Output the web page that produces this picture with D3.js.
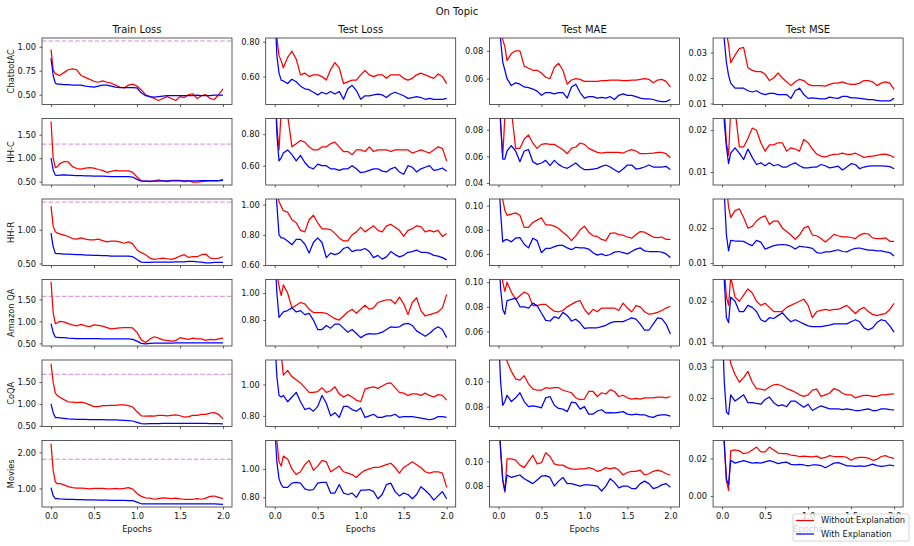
<!DOCTYPE html>
<html>
  <head>
    <style>
      body { margin: 0; background: #fff; }
      text { font-family: "DejaVu Sans", sans-serif; fill: #111; }
      .tick line { stroke: #333; stroke-width: 0.8; }
      .tick text { font-size: 8.3px; }
    </style>
    <script src="https://d3js.org/d3.v7.min.js"></script>
  </head>

  <body>
    <svg width="914" height="546"></svg>

    <script>
      var datasets = ["ChatbotAC", "HH-C", "HH-R", "Amazon QA", "CoQA", "Movies"];
      var metrics = ["Train Loss", "Test Loss", "Test MAE", "Test MSE"];
      var seriesNames = ["Without Explanation", "With Explanation"];

      var epochs = [0, 0.025, 0.05, 0.075, 0.1,
        0.15, 0.2, 0.25, 0.3, 0.35, 0.4, 0.45, 0.5, 0.55, 0.6,
        0.65, 0.7, 0.75, 0.8, 0.85, 0.9, 0.95, 1.0, 1.05, 1.1,
        1.15, 1.2, 1.25, 1.3, 1.35, 1.4, 1.45, 1.5, 1.55, 1.6,
        1.65, 1.7, 1.75, 1.8, 1.85, 1.9, 1.95, 2.0];

      // dashed reference level in the train loss panels
      var trainBaseline = [1.06, 1.30, 1.41, 1.57, 1.68, 1.81];

      // ---- ChatbotAC
      var chatbotTrainWithout = [0.97, 0.76, 0.72, 0.71, 0.70,
        0.73, 0.76, 0.77, 0.76, 0.70, 0.68, 0.66, 0.64, 0.63, 0.645,
        0.63, 0.62, 0.60, 0.58, 0.57, 0.60, 0.61, 0.59, 0.55, 0.50,
        0.48, 0.46, 0.44, 0.46, 0.48, 0.46, 0.44, 0.48, 0.47, 0.50,
        0.51, 0.46, 0.49, 0.50, 0.46, 0.45, 0.50, 0.56];
      var chatbotTrainWith = [0.88, 0.70, 0.62, 0.61, 0.61,
        0.605, 0.605, 0.60, 0.60, 0.60, 0.59, 0.585, 0.58, 0.59, 0.60,
        0.60, 0.59, 0.58, 0.575, 0.575, 0.575, 0.575, 0.57, 0.52, 0.49,
        0.48, 0.475, 0.48, 0.485, 0.49, 0.49, 0.49, 0.49, 0.49, 0.49,
        0.49, 0.495, 0.49, 0.49, 0.49, 0.495, 0.495, 0.495];
      var chatbotLossWithout = [1.00, 0.82, 0.72, 0.69, 0.65,
        0.71, 0.745, 0.70, 0.61, 0.62, 0.60, 0.61, 0.61, 0.60, 0.58,
        0.64, 0.68, 0.65, 0.56, 0.57, 0.58, 0.58, 0.61, 0.635, 0.61,
        0.60, 0.61, 0.61, 0.59, 0.61, 0.61, 0.61, 0.59, 0.58, 0.59,
        0.61, 0.62, 0.61, 0.60, 0.59, 0.615, 0.60, 0.56];
      var chatbotLossWith = [1.00, 0.72, 0.62, 0.58, 0.575,
        0.56, 0.585, 0.57, 0.545, 0.53, 0.525, 0.51, 0.495, 0.51, 0.50,
        0.515, 0.50, 0.515, 0.47, 0.53, 0.55, 0.52, 0.47, 0.49, 0.49,
        0.495, 0.50, 0.495, 0.48, 0.50, 0.51, 0.50, 0.49, 0.475, 0.48,
        0.485, 0.48, 0.47, 0.475, 0.47, 0.47, 0.47, 0.475];
      var chatbotMaeWithout = [0.13, 0.10, 0.088, 0.083, 0.073,
        0.078, 0.080, 0.080, 0.069, 0.0675, 0.066, 0.066, 0.064, 0.061, 0.060,
        0.068, 0.071, 0.066, 0.056, 0.059, 0.060, 0.0595, 0.058, 0.058, 0.058,
        0.058, 0.0585, 0.0585, 0.059, 0.059, 0.059, 0.0585, 0.0585, 0.059, 0.059,
        0.0595, 0.060, 0.0595, 0.057, 0.059, 0.0595, 0.058, 0.054];
      var chatbotMaeWith = [0.12, 0.088, 0.072, 0.066, 0.060,
        0.055, 0.057, 0.056, 0.054, 0.0535, 0.0525, 0.051, 0.048, 0.050, 0.050,
        0.049, 0.050, 0.050, 0.046, 0.054, 0.056, 0.050, 0.046, 0.047, 0.047,
        0.046, 0.0465, 0.046, 0.047, 0.045, 0.048, 0.049, 0.048, 0.048, 0.047,
        0.046, 0.0455, 0.0455, 0.045, 0.044, 0.0435, 0.0435, 0.045];
      var chatbotMseWithout = [0.06, 0.045, 0.038, 0.033, 0.026,
        0.029, 0.0315, 0.032, 0.024, 0.023, 0.0225, 0.0225, 0.0215, 0.019, 0.020,
        0.022, 0.020, 0.0185, 0.017, 0.0185, 0.0195, 0.019, 0.0175, 0.017, 0.017,
        0.017, 0.0168, 0.0175, 0.018, 0.018, 0.0185, 0.0178, 0.0175, 0.0175, 0.018,
        0.019, 0.019, 0.0185, 0.017, 0.018, 0.0185, 0.018, 0.0155];
      var chatbotMseWith = [0.06, 0.035, 0.026, 0.021, 0.018,
        0.016, 0.016, 0.016, 0.015, 0.0145, 0.015, 0.014, 0.0135, 0.014, 0.014,
        0.0135, 0.0135, 0.0135, 0.012, 0.015, 0.016, 0.0135, 0.012, 0.0122, 0.012,
        0.0118, 0.0118, 0.0125, 0.0122, 0.012, 0.0128, 0.0128, 0.0122, 0.0122, 0.012,
        0.0118, 0.0115, 0.0115, 0.0112, 0.011, 0.011, 0.011, 0.012];

      // ---- HH-C
      var hhcTrainWithout = [1.78, 1.00, 0.80, 0.82, 0.88,
        0.93, 0.92, 0.82, 0.78, 0.77, 0.79, 0.80, 0.79, 0.76, 0.74,
        0.70, 0.72, 0.74, 0.73, 0.73, 0.73, 0.70, 0.60, 0.52, 0.51,
        0.50, 0.52, 0.54, 0.52, 0.50, 0.53, 0.53, 0.53, 0.50, 0.52,
        0.49, 0.49, 0.50, 0.51, 0.52, 0.52, 0.52, 0.55];
      var hhcTrainWith = [1.00, 0.75, 0.64, 0.635, 0.64,
        0.645, 0.64, 0.635, 0.63, 0.63, 0.625, 0.625, 0.62, 0.62, 0.62,
        0.615, 0.61, 0.61, 0.61, 0.61, 0.61, 0.60, 0.55, 0.51, 0.51,
        0.51, 0.515, 0.515, 0.52, 0.52, 0.52, 0.52, 0.52, 0.52, 0.52,
        0.52, 0.52, 0.525, 0.525, 0.525, 0.525, 0.525, 0.53];
      var hhcLossWithout = [1.20, 0.85, 0.70, 0.95, 1.00,
        0.92, 0.72, 0.74, 0.76, 0.75, 0.72, 0.70, 0.70, 0.72, 0.72,
        0.74, 0.75, 0.72, 0.69, 0.69, 0.67, 0.70, 0.70, 0.69, 0.72,
        0.69, 0.70, 0.70, 0.70, 0.69, 0.70, 0.70, 0.70, 0.70, 0.68,
        0.69, 0.70, 0.69, 0.68, 0.70, 0.72, 0.71, 0.63];
      var hhcLossWith = [1.20, 0.80, 0.63, 0.65, 0.68,
        0.70, 0.67, 0.63, 0.665, 0.62, 0.59, 0.58, 0.61, 0.60, 0.60,
        0.58, 0.58, 0.57, 0.58, 0.58, 0.60, 0.58, 0.555, 0.56, 0.57,
        0.58, 0.58, 0.565, 0.56, 0.58, 0.59, 0.56, 0.545, 0.60, 0.59,
        0.56, 0.58, 0.59, 0.60, 0.57, 0.575, 0.585, 0.565];
      var hhcMaeWithout = [0.13, 0.085, 0.060, 0.09, 0.10,
        0.095, 0.066, 0.066, 0.073, 0.076, 0.070, 0.066, 0.069, 0.0695, 0.069,
        0.069, 0.067, 0.065, 0.062, 0.066, 0.067, 0.070, 0.069, 0.066, 0.0645,
        0.063, 0.0625, 0.063, 0.063, 0.063, 0.063, 0.0625, 0.064, 0.065, 0.064,
        0.062, 0.062, 0.0622, 0.0625, 0.063, 0.063, 0.062, 0.059];
      var hhcMaeWith = [0.12, 0.085, 0.058, 0.058, 0.064,
        0.068, 0.064, 0.056, 0.064, 0.065, 0.056, 0.054, 0.055, 0.057, 0.053,
        0.057, 0.054, 0.052, 0.051, 0.053, 0.055, 0.052, 0.050, 0.050, 0.0505,
        0.051, 0.0525, 0.0535, 0.052, 0.050, 0.048, 0.0505, 0.0535, 0.0535, 0.0505,
        0.051, 0.052, 0.0535, 0.052, 0.052, 0.052, 0.0525, 0.050];
      var hhcMseWithout = [0.04, 0.025, 0.017, 0.014, 0.025,
        0.025, 0.016, 0.016, 0.018, 0.0205, 0.020, 0.017, 0.015, 0.0165, 0.0165,
        0.017, 0.017, 0.015, 0.0158, 0.0155, 0.015, 0.0178, 0.017, 0.0155, 0.0143,
        0.0138, 0.0136, 0.014, 0.0142, 0.0143, 0.0145, 0.0142, 0.0142, 0.0145, 0.014,
        0.0135, 0.0137, 0.0138, 0.014, 0.0142, 0.0143, 0.014, 0.0135];
      var hhcMseWith = [0.04, 0.022, 0.016, 0.012, 0.0145,
        0.0158, 0.0145, 0.013, 0.0155, 0.0135, 0.0118, 0.0122, 0.0115, 0.0122, 0.0115,
        0.0118, 0.0112, 0.0112, 0.0118, 0.0122, 0.0115, 0.011, 0.011, 0.0112, 0.0112,
        0.0118, 0.0115, 0.011, 0.0112, 0.0114, 0.0105, 0.0112, 0.012, 0.0118, 0.0108,
        0.0112, 0.0114, 0.0115, 0.0115, 0.0115, 0.0114, 0.0113, 0.0108];

      // ---- HH-R
      var hhrTrainWithout = [1.35, 1.05, 0.97, 0.95, 0.94,
        0.92, 0.90, 0.87, 0.86, 0.88, 0.86, 0.85, 0.85, 0.86, 0.84,
        0.82, 0.83, 0.83, 0.82, 0.80, 0.82, 0.79, 0.70, 0.66, 0.63,
        0.58, 0.56, 0.57, 0.58, 0.57, 0.56, 0.58, 0.61, 0.63, 0.59,
        0.60, 0.60, 0.63, 0.64, 0.58, 0.57, 0.58, 0.60];
      var hhrTrainWith = [0.95, 0.75, 0.65, 0.645, 0.645,
        0.64, 0.64, 0.635, 0.63, 0.63, 0.625, 0.625, 0.62, 0.62, 0.615,
        0.615, 0.61, 0.61, 0.61, 0.61, 0.61, 0.60, 0.56, 0.52, 0.515,
        0.515, 0.52, 0.52, 0.52, 0.52, 0.52, 0.525, 0.525, 0.525, 0.53,
        0.53, 0.525, 0.52, 0.51, 0.51, 0.515, 0.515, 0.515];
      var hhrLossWithout = [1.30, 1.10, 1.02, 0.99, 0.96,
        0.95, 0.90, 0.88, 0.83, 0.82, 0.90, 0.93, 0.88, 0.84, 0.84,
        0.835, 0.81, 0.78, 0.76, 0.76, 0.80, 0.82, 0.85, 0.82, 0.84,
        0.86, 0.83, 0.82, 0.86, 0.87, 0.85, 0.83, 0.79, 0.83, 0.84,
        0.86, 0.855, 0.82, 0.83, 0.82, 0.83, 0.79, 0.81];
      var hhrLossWith = [1.20, 1.00, 0.80, 0.78, 0.78,
        0.76, 0.735, 0.77, 0.77, 0.74, 0.68, 0.75, 0.78, 0.75, 0.65,
        0.68, 0.67, 0.68, 0.71, 0.72, 0.69, 0.70, 0.70, 0.71, 0.69,
        0.65, 0.665, 0.64, 0.655, 0.69, 0.67, 0.655, 0.665, 0.685, 0.69,
        0.70, 0.685, 0.685, 0.68, 0.665, 0.66, 0.65, 0.635];
      var hhrMaeWithout = [0.14, 0.12, 0.105, 0.096, 0.092,
        0.093, 0.094, 0.092, 0.082, 0.082, 0.086, 0.088, 0.090, 0.084, 0.084,
        0.083, 0.081, 0.078, 0.075, 0.071, 0.075, 0.080, 0.083, 0.078, 0.075,
        0.0745, 0.072, 0.071, 0.077, 0.0775, 0.076, 0.0755, 0.074, 0.073, 0.076,
        0.0785, 0.078, 0.076, 0.074, 0.0735, 0.074, 0.072, 0.072];
      var hhrMaeWith = [0.13, 0.095, 0.070, 0.0715, 0.072,
        0.070, 0.073, 0.0735, 0.068, 0.065, 0.073, 0.071, 0.061, 0.0645, 0.0645,
        0.066, 0.067, 0.067, 0.065, 0.0635, 0.0655, 0.065, 0.065, 0.064, 0.061,
        0.059, 0.060, 0.0585, 0.0595, 0.0615, 0.062, 0.061, 0.060, 0.062, 0.064,
        0.065, 0.0625, 0.062, 0.062, 0.062, 0.0615, 0.060, 0.057];
      var hhrMseWithout = [0.05, 0.04, 0.032, 0.026, 0.023,
        0.025, 0.0255, 0.023, 0.020, 0.0205, 0.022, 0.023, 0.0235, 0.021, 0.022,
        0.022, 0.020, 0.019, 0.018, 0.0168, 0.018, 0.020, 0.0205, 0.018, 0.0178,
        0.017, 0.016, 0.017, 0.0182, 0.0178, 0.0175, 0.0175, 0.0173, 0.017, 0.018,
        0.0185, 0.0183, 0.0172, 0.017, 0.017, 0.0172, 0.0162, 0.0162];
      var hhrMseWith = [0.04, 0.03, 0.018, 0.0135, 0.0165,
        0.0163, 0.0163, 0.0162, 0.0155, 0.015, 0.0165, 0.016, 0.014, 0.0145, 0.015,
        0.0152, 0.0153, 0.0152, 0.0148, 0.014, 0.0148, 0.0146, 0.0145, 0.0142, 0.013,
        0.0128, 0.0132, 0.0132, 0.0135, 0.0138, 0.0133, 0.0132, 0.0138, 0.0142, 0.0143,
        0.014, 0.0137, 0.0137, 0.0135, 0.0135, 0.0132, 0.013, 0.012];

      // ---- Amazon QA
      var amazonTrainWithout = [1.90, 1.20, 0.95, 0.97, 1.00,
        0.99, 0.95, 0.92, 0.90, 0.93, 0.90, 0.88, 0.92, 0.91, 0.89,
        0.86, 0.83, 0.84, 0.85, 0.86, 0.86, 0.85, 0.75, 0.58, 0.52,
        0.60, 0.65, 0.62, 0.58, 0.57, 0.55, 0.56, 0.63, 0.61, 0.59,
        0.62, 0.60, 0.60, 0.57, 0.59, 0.58, 0.60, 0.62];
      var amazonTrainWith = [0.95, 0.75, 0.64, 0.635, 0.63,
        0.63, 0.62, 0.615, 0.61, 0.61, 0.61, 0.61, 0.605, 0.605, 0.60,
        0.60, 0.60, 0.60, 0.60, 0.60, 0.60, 0.59, 0.55, 0.50, 0.49,
        0.50, 0.505, 0.505, 0.505, 0.505, 0.505, 0.51, 0.51, 0.51, 0.51,
        0.51, 0.51, 0.51, 0.51, 0.51, 0.51, 0.51, 0.51];
      var amazonLossWithout = [1.30, 1.15, 1.05, 0.98, 1.06,
        1.00, 0.89, 0.91, 0.93, 0.92, 0.88, 0.855, 0.855, 0.855, 0.85,
        0.83, 0.81, 0.80, 0.83, 0.86, 0.88, 0.85, 0.88, 0.91, 0.88,
        0.89, 0.93, 0.94, 0.95, 0.95, 0.92, 0.97, 0.92, 0.84, 0.93,
        0.965, 0.87, 0.83, 0.84, 0.85, 0.86, 0.89, 0.99];
      var amazonLossWith = [1.30, 1.00, 0.82, 0.84, 0.86,
        0.87, 0.89, 0.86, 0.87, 0.84, 0.85, 0.80, 0.73, 0.73, 0.76,
        0.74, 0.77, 0.77, 0.74, 0.71, 0.73, 0.70, 0.67, 0.69, 0.70,
        0.695, 0.70, 0.71, 0.73, 0.75, 0.745, 0.75, 0.77, 0.775, 0.76,
        0.72, 0.70, 0.68, 0.70, 0.73, 0.75, 0.73, 0.67];
      var amazonMaeWithout = [0.14, 0.12, 0.10, 0.0925, 0.10,
        0.092, 0.086, 0.089, 0.092, 0.090, 0.081, 0.081, 0.082, 0.082, 0.079,
        0.0765, 0.076, 0.077, 0.080, 0.082, 0.084, 0.085, 0.078, 0.074, 0.078,
        0.076, 0.079, 0.079, 0.079, 0.079, 0.077, 0.083, 0.079, 0.076, 0.081,
        0.080, 0.076, 0.074, 0.0745, 0.0755, 0.077, 0.079, 0.0805];
      var amazonMaeWith = [0.13, 0.095, 0.078, 0.074, 0.085,
        0.086, 0.087, 0.080, 0.080, 0.079, 0.083, 0.081, 0.075, 0.069, 0.0685,
        0.072, 0.0705, 0.0755, 0.073, 0.0685, 0.070, 0.067, 0.0625, 0.063, 0.063,
        0.063, 0.064, 0.065, 0.067, 0.068, 0.068, 0.068, 0.0695, 0.071, 0.070,
        0.066, 0.061, 0.061, 0.066, 0.071, 0.0705, 0.066, 0.058];
      var amazonMseWithout = [0.05, 0.028, 0.021, 0.019, 0.026,
        0.021, 0.020, 0.0215, 0.023, 0.022, 0.020, 0.019, 0.0195, 0.0185, 0.0175,
        0.0175, 0.0175, 0.0185, 0.019, 0.0195, 0.020, 0.0205, 0.019, 0.016, 0.0175,
        0.0178, 0.018, 0.0178, 0.018, 0.018, 0.0185, 0.019, 0.018, 0.017, 0.018,
        0.0185, 0.0175, 0.0168, 0.0165, 0.0168, 0.017, 0.018, 0.0195];
      var amazonMseWith = [0.04, 0.025, 0.016, 0.0148, 0.021,
        0.020, 0.0175, 0.0175, 0.019, 0.0185, 0.0175, 0.0155, 0.015, 0.016, 0.0158,
        0.0165, 0.0172, 0.016, 0.015, 0.0155, 0.015, 0.0145, 0.014, 0.0138, 0.0138,
        0.0138, 0.014, 0.0142, 0.0145, 0.0145, 0.0145, 0.0145, 0.015, 0.0155, 0.015,
        0.0135, 0.013, 0.0135, 0.0148, 0.0155, 0.0152, 0.014, 0.0125];

      // ---- CoQA
      var coqaTrainWithout = [1.92, 1.50, 1.25, 1.19, 1.16,
        1.10, 1.05, 1.04, 1.03, 1.04, 1.02, 0.98, 0.94, 0.94, 0.96,
        0.96, 0.97, 0.97, 0.98, 0.98, 0.96, 0.93, 0.82, 0.73, 0.72,
        0.73, 0.72, 0.74, 0.74, 0.73, 0.74, 0.75, 0.73, 0.70, 0.71,
        0.74, 0.74, 0.76, 0.76, 0.79, 0.80, 0.76, 0.66];
      var coqaTrainWith = [1.00, 0.80, 0.69, 0.685, 0.68,
        0.67, 0.66, 0.655, 0.65, 0.648, 0.645, 0.643, 0.64, 0.64, 0.64,
        0.638, 0.635, 0.633, 0.63, 0.625, 0.62, 0.61, 0.58, 0.55, 0.545,
        0.548, 0.55, 0.552, 0.555, 0.555, 0.555, 0.555, 0.555, 0.555, 0.555,
        0.555, 0.555, 0.555, 0.555, 0.552, 0.55, 0.548, 0.545];
      var coqaLossWithout = [1.50, 1.35, 1.25, 1.20, 1.06,
        1.09, 1.05, 1.03, 1.01, 0.98, 0.95, 0.95, 0.955, 0.98, 0.95,
        0.96, 0.985, 0.94, 0.92, 0.935, 0.92, 0.90, 0.89, 0.97, 0.98,
        0.985, 0.975, 0.99, 1.005, 1.01, 0.98, 0.95, 0.945, 0.93, 0.94,
        0.94, 0.93, 0.945, 0.93, 0.92, 0.935, 0.93, 0.90];
      var coqaLossWith = [1.30, 1.05, 0.93, 0.92, 0.93,
        0.89, 0.92, 0.95, 0.89, 0.84, 0.85, 0.83, 0.86, 0.93, 0.88,
        0.80, 0.82, 0.79, 0.86, 0.86, 0.84, 0.83, 0.85, 0.79, 0.80,
        0.81, 0.79, 0.79, 0.80, 0.80, 0.81, 0.79, 0.795, 0.795, 0.795,
        0.79, 0.785, 0.78, 0.775, 0.78, 0.795, 0.795, 0.79];
      var coqaMaeWithout = [0.15, 0.14, 0.13, 0.125, 0.116,
        0.108, 0.102, 0.101, 0.1045, 0.098, 0.094, 0.093, 0.093, 0.095, 0.0945,
        0.095, 0.095, 0.093, 0.092, 0.091, 0.087, 0.0855, 0.086, 0.092, 0.092,
        0.088, 0.091, 0.090, 0.0935, 0.092, 0.088, 0.089, 0.087, 0.086, 0.0865,
        0.086, 0.087, 0.087, 0.087, 0.0875, 0.0875, 0.087, 0.088];
      var coqaMaeWith = [0.14, 0.10, 0.081, 0.084, 0.089,
        0.084, 0.087, 0.091, 0.084, 0.080, 0.0805, 0.080, 0.079, 0.087, 0.088,
        0.081, 0.0785, 0.078, 0.076, 0.0835, 0.083, 0.078, 0.080, 0.074, 0.074,
        0.0765, 0.0775, 0.075, 0.0752, 0.075, 0.0755, 0.076, 0.074, 0.0735, 0.074,
        0.0735, 0.0735, 0.072, 0.0715, 0.073, 0.0735, 0.0735, 0.0725];
      var coqaMseWithout = [0.06, 0.05, 0.042, 0.036, 0.031,
        0.0275, 0.025, 0.0265, 0.0285, 0.025, 0.023, 0.0228, 0.0225, 0.0235, 0.0242,
        0.0243, 0.0238, 0.023, 0.0225, 0.0218, 0.021, 0.0205, 0.021, 0.0225, 0.0228,
        0.0205, 0.021, 0.0215, 0.023, 0.0225, 0.0215, 0.021, 0.021, 0.020, 0.0205,
        0.0208, 0.0208, 0.0205, 0.0205, 0.021, 0.021, 0.0212, 0.0213];
      var coqaMseWith = [0.045, 0.025, 0.0155, 0.0148, 0.021,
        0.019, 0.020, 0.021, 0.0185, 0.0185, 0.0183, 0.018, 0.0195, 0.0203, 0.0185,
        0.0175, 0.0178, 0.0172, 0.019, 0.019, 0.018, 0.017, 0.018, 0.016, 0.0168,
        0.0175, 0.017, 0.0165, 0.0165, 0.0165, 0.0163, 0.0165, 0.0163, 0.016, 0.016,
        0.0163, 0.0165, 0.016, 0.016, 0.0165, 0.0165, 0.0163, 0.0162];

      // ---- Movies
      var moviesTrainWithout = [2.24, 1.50, 1.18, 1.13, 1.14,
        1.10, 1.05, 1.02, 1.01, 1.01, 1.00, 0.99, 1.00, 1.00, 1.00,
        0.99, 0.99, 1.00, 0.99, 1.00, 1.02, 0.98, 0.86, 0.78, 0.74,
        0.73, 0.70, 0.72, 0.74, 0.73, 0.72, 0.73, 0.71, 0.70, 0.70,
        0.70, 0.72, 0.70, 0.73, 0.78, 0.79, 0.75, 0.72];
      var moviesTrainWith = [1.02, 0.80, 0.72, 0.715, 0.71,
        0.705, 0.70, 0.695, 0.69, 0.688, 0.685, 0.683, 0.68, 0.678, 0.675,
        0.673, 0.67, 0.67, 0.67, 0.668, 0.665, 0.66, 0.62, 0.575, 0.57,
        0.57, 0.57, 0.572, 0.575, 0.575, 0.575, 0.575, 0.575, 0.575, 0.575,
        0.575, 0.575, 0.575, 0.575, 0.572, 0.57, 0.565, 0.56];
      var moviesLossWithout = [1.40, 1.20, 1.05, 1.02, 1.09,
        1.07, 1.00, 0.96, 0.98, 1.03, 1.06, 0.99, 1.02, 1.06, 1.05,
        0.98, 1.00, 1.02, 0.98, 0.97, 0.96, 0.94, 0.97, 0.99, 1.00,
        1.01, 1.01, 1.02, 1.03, 1.04, 1.01, 0.97, 1.01, 1.03, 1.05,
        1.03, 1.01, 0.98, 0.97, 0.98, 0.98, 0.97, 0.87];
      var moviesLossWith = [1.30, 1.05, 0.93, 0.89, 0.87,
        0.87, 0.90, 0.905, 0.90, 0.86, 0.85, 0.855, 0.90, 0.905, 0.905,
        0.83, 0.83, 0.89, 0.83, 0.82, 0.83, 0.80, 0.85, 0.85, 0.855,
        0.84, 0.79, 0.82, 0.89, 0.90, 0.84, 0.81, 0.83, 0.82, 0.79,
        0.82, 0.875, 0.85, 0.82, 0.78, 0.81, 0.84, 0.79];
      var moviesMaeWithout = [0.14, 0.11, 0.085, 0.075, 0.102,
        0.102, 0.101, 0.097, 0.095, 0.100, 0.105, 0.098, 0.099, 0.107, 0.104,
        0.098, 0.097, 0.097, 0.095, 0.094, 0.0935, 0.094, 0.094, 0.095, 0.094,
        0.092, 0.093, 0.095, 0.094, 0.095, 0.093, 0.089, 0.091, 0.092, 0.092,
        0.093, 0.089, 0.090, 0.092, 0.093, 0.092, 0.090, 0.089];
      var moviesMaeWith = [0.14, 0.11, 0.085, 0.076, 0.089,
        0.087, 0.088, 0.089, 0.086, 0.084, 0.082, 0.085, 0.088, 0.0885, 0.087,
        0.080, 0.084, 0.087, 0.082, 0.082, 0.081, 0.080, 0.081, 0.081, 0.0805,
        0.080, 0.076, 0.080, 0.086, 0.083, 0.0785, 0.080, 0.080, 0.078, 0.078,
        0.082, 0.084, 0.082, 0.078, 0.079, 0.081, 0.082, 0.079];
      var moviesMseWithout = [0.05, 0.028, 0.008, 0.003, 0.024,
        0.0245, 0.024, 0.0225, 0.023, 0.0245, 0.026, 0.0235, 0.0235, 0.026, 0.0245,
        0.0228, 0.0225, 0.0225, 0.0218, 0.0215, 0.021, 0.0212, 0.021, 0.0208, 0.0212,
        0.020, 0.0205, 0.0215, 0.021, 0.021, 0.021, 0.0205, 0.019, 0.0202, 0.0205,
        0.0205, 0.0202, 0.019, 0.0195, 0.021, 0.0215, 0.0205, 0.020];
      var moviesMseWith = [0.05, 0.028, 0.009, 0.006, 0.019,
        0.0175, 0.0182, 0.0188, 0.0182, 0.0175, 0.0178, 0.0175, 0.0182, 0.0188, 0.0182,
        0.0172, 0.0178, 0.018, 0.0168, 0.0165, 0.0168, 0.0165, 0.016, 0.0165, 0.0165,
        0.0162, 0.015, 0.0162, 0.0175, 0.0178, 0.017, 0.016, 0.016, 0.0158, 0.016,
        0.0158, 0.0162, 0.017, 0.0162, 0.0158, 0.016, 0.0165, 0.016];

      // y ticks per row (train, test loss, mae, mse)
      var yTicks = [
        [[0.5, 0.75, 1.0], [0.6, 0.8], [0.06, 0.08], [0.01, 0.02, 0.03]],
        [[0.5, 1.0, 1.5], [0.6, 0.8], [0.04, 0.06, 0.08], [0.01, 0.02]],
        [[0.5, 1.0], [0.6, 0.8, 1.0], [0.06, 0.08, 0.1], [0.01, 0.02]],
        [[0.5, 1.0, 1.5], [0.8, 1.0], [0.06, 0.08, 0.1], [0.01, 0.02]],
        [[0.5, 1.0, 1.5], [0.8, 1.0], [0.08, 0.1], [0.02, 0.03]],
        [[1.0, 2.0], [0.8, 1.0], [0.08, 0.1], [0.0, 0.02]]
      ];
      var yLimits = [
        [[0.398, 1.091], [0.44, 0.821], [0.0414, 0.0892], [0.0096, 0.0357]],
        [[0.43, 1.845], [0.477, 0.90], [0.0385, 0.0884], [0.0069, 0.0228]],
        [[0.47, 1.456], [0.598, 1.037], [0.0504, 0.1055], [0.0093, 0.0283]],
        [[0.44, 1.953], [0.608, 1.10], [0.0482, 0.1022], [0.0091, 0.0253]],
        [[0.484, 2.007], [0.732, 1.156], [0.0642, 0.117], [0.0109, 0.0321]],
        [[0.485, 2.33], [0.732, 1.20], [0.063, 0.117], [-0.0058, 0.0295]]
      ];
      var xTicks = [0, 0.5, 1.0, 1.5, 2.0];

      // table: [row][col] -> [without, with]
      var table = [
        [[chatbotTrainWithout, chatbotTrainWith], [chatbotLossWithout, chatbotLossWith],
         [chatbotMaeWithout, chatbotMaeWith], [chatbotMseWithout, chatbotMseWith]],
        [[hhcTrainWithout, hhcTrainWith], [hhcLossWithout, hhcLossWith],
         [hhcMaeWithout, hhcMaeWith], [hhcMseWithout, hhcMseWith]],
        [[hhrTrainWithout, hhrTrainWith], [hhrLossWithout, hhrLossWith],
         [hhrMaeWithout, hhrMaeWith], [hhrMseWithout, hhrMseWith]],
        [[amazonTrainWithout, amazonTrainWith], [amazonLossWithout, amazonLossWith],
         [amazonMaeWithout, amazonMaeWith], [amazonMseWithout, amazonMseWith]],
        [[coqaTrainWithout, coqaTrainWith], [coqaLossWithout, coqaLossWith],
         [coqaMaeWithout, coqaMaeWith], [coqaMseWithout, coqaMseWith]],
        [[moviesTrainWithout, moviesTrainWith], [moviesLossWithout, moviesLossWith],
         [moviesMaeWithout, moviesMaeWith], [moviesMseWithout, moviesMseWith]]
      ];

      var colors = ["#ff0000", "#0000ff"];

      var svg = d3.select("svg");
      var pw = 190, ph = 66.5;
      var left0 = 42, colStep = 223.7, top0 = 38, rowStep = 80.5;

      var x = d3.scaleLinear().domain([-0.105, 2.105]).range([0, pw]);

      svg.append("text")
        .attr("x", 457).attr("y", 14.5)
        .attr("text-anchor", "middle")
        .style("font-size", "10px")
        .text("On Topic");

      datasets.forEach(function (name, r) {
        metrics.forEach(function (metric, c) {
          var gx = left0 + c * colStep, gy = top0 + r * rowStep;
          var g = svg.append("g").attr("transform", "translate(" + gx + "," + gy + ")");
          var y = d3.scaleLinear().domain(yLimits[r][c]).range([ph, 0]);
          var clipId = "clip-" + r + "-" + c;

          g.append("clipPath").attr("id", clipId)
            .append("rect").attr("width", pw).attr("height", ph);

          var yAxis = g.append("g")
            .call(d3.axisLeft(y).tickValues(yTicks[r][c])
              .tickFormat(d3.format(".2f")).tickSize(2.5).tickPadding(3.5));
          yAxis.select(".domain").remove();

          var xAxis = g.append("g")
            .attr("transform", "translate(0," + ph + ")")
            .call(d3.axisBottom(x).tickValues(xTicks)
              .tickFormat(r === datasets.length - 1 ? d3.format(".1f") : function () { return ""; })
              .tickSize(2.5).tickPadding(3.5));
          xAxis.select(".domain").remove();

          var plot = g.append("g").attr("clip-path", "url(#" + clipId + ")");

          if (c === 0) {
            plot.append("line")
              .attr("x1", 0).attr("x2", pw)
              .attr("y1", y(trainBaseline[r])).attr("y2", y(trainBaseline[r]))
              .attr("stroke", "#d48ad8")
              .attr("stroke-width", 1)
              .attr("stroke-dasharray", "4.6,2");
          }

          var line = d3.line()
            .x(function (d, i) { return x(epochs[i]); })
            .y(function (d) { return y(d); });

          table[r][c].forEach(function (values, s) {
            plot.append("path")
              .datum(values)
              .attr("fill", "none")
              .attr("stroke", colors[s])
              .attr("stroke-width", 1.25)
              .attr("stroke-linejoin", "round")
              .attr("d", line);
          });

          g.append("rect")
            .attr("width", pw).attr("height", ph)
            .attr("fill", "none")
            .attr("stroke", "#333")
            .attr("stroke-width", 0.8);

          if (r === 0) {
            g.append("text")
              .attr("x", pw / 2).attr("y", -5)
              .attr("text-anchor", "middle")
              .style("font-size", "10px")
              .text(metric);
          }
          if (c === 0) {
            g.append("text")
              .attr("transform", "translate(" + (14 - gx) + "," + (ph / 2) + ") rotate(-90)")
              .attr("text-anchor", "middle")
              .style("font-size", "8.3px")
              .text(name);
          }
          if (r === datasets.length - 1) {
            g.append("text")
              .attr("x", pw / 2).attr("y", ph + 24.5)
              .attr("text-anchor", "middle")
              .style("font-size", "8.3px")
              .text("Epochs");
          }
        });
      });

      // legend, lower right, drawn over the last axis
      var legend = svg.append("g").attr("transform", "translate(793,514)");
      legend.append("rect")
        .attr("width", 116).attr("height", 27)
        .attr("rx", 2)
        .attr("fill", "#fff").attr("fill-opacity", 0.8)
        .attr("stroke", "#ccc").attr("stroke-width", 0.8);
      seriesNames.forEach(function (label, s) {
        var ly = 6.5 + s * 13.5;
        legend.append("line")
          .attr("x1", 3).attr("x2", 21)
          .attr("y1", ly).attr("y2", ly)
          .attr("stroke", colors[s]).attr("stroke-width", 1.25);
        legend.append("text")
          .attr("x", 28).attr("y", ly)
          .attr("dy", "0.35em")
          .style("font-size", "8.3px")
          .text(label);
      });
    </script>
  </body>
</html>
